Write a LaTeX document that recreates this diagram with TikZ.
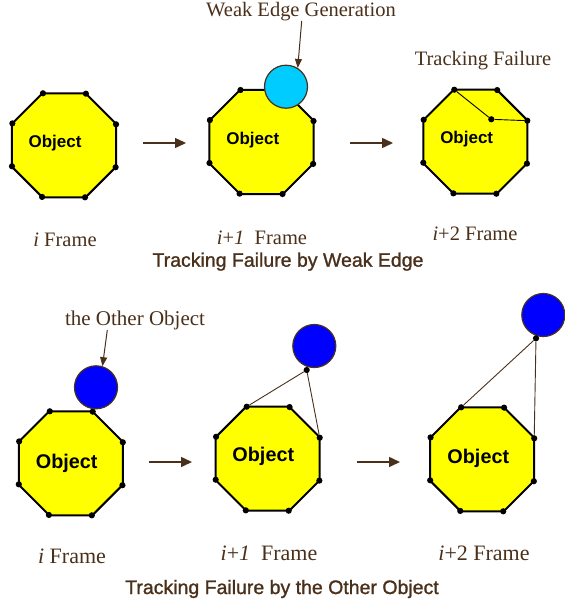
\documentclass[tikz,border=0pt]{standalone}
\usepackage{fontspec}
\setmainfont{Liberation Serif}
\setsansfont{Liberation Sans}
\newfontfamily\capfont[FakeBold=1.2]{Liberation Sans}
\usetikzlibrary{shapes.geometric,arrows.meta,calc}
\definecolor{brn}{RGB}{74,48,26}
\definecolor{objyellow}{RGB}{255,255,0}
\definecolor{weakcyan}{RGB}{0,204,255}
\definecolor{otherblue}{RGB}{0,0,255}
% dots on the eight corners of an octagon node #1, named #1v1 ... #1v8
\newcommand\octcorners[1]{%
  \foreach \a [count=\k] in {22.5,67.5,112.5,157.5,202.5,247.5,292.5,337.5}
    {\node[vdot] (#1v\k) at (#1.\a) {};}}
\begin{document}
\begin{tikzpicture}[x=1pt,y=-1pt,
  oct/.style={regular polygon, regular polygon sides=8, minimum size=112.6pt,
    inner sep=0pt, outer sep=0pt, draw=black, line width=2pt, fill=objyellow},
  objlabel/.style={font=\sffamily\bfseries\fontsize{#1}{#1}\selectfont, text=black, inner sep=0pt},
  objlabel/.default=17,
  vdot/.style={circle, fill=black, inner sep=0pt, minimum size=6.2pt},
  weak/.style={circle, minimum size=43pt, inner sep=0pt, fill=weakcyan, draw=brn, line width=1.2pt},
  other/.style={circle, minimum size=43pt, inner sep=0pt, fill=otherblue, draw=brn, line width=1.2pt},
  flow/.style={draw=brn, line width=1.5pt, -{Triangle[length=11pt,width=10pt]}},
  pointer/.style={draw=brn, line width=1pt, -{Triangle[length=9pt,width=7pt]}},
  tie/.style={draw=brn, line width=0.9pt},
  serif/.style={font=\fontsize{#1}{#1}\selectfont, text=brn, inner sep=0pt, anchor=base},
  serif/.default=20.5,
  caption/.style={font=\capfont\fontsize{19.5}{19.5}\selectfont, text=brn, inner sep=0pt, anchor=base},
]
\useasboundingbox (0,0) rectangle (565,603);

% ---------- Tracking failure by weak edge ----------
\node[oct] (t1) at (64,145.3) {};
\node[objlabel] (t1l) at (55,143) {Object};
\octcorners{t1}

\node[oct] (t2) at (261.5,142) {};
\node[objlabel] (t2l) at (252.8,140) {Object};
\octcorners{t2}
\node[weak] (wc) at (286,86.7) {};

\node[oct] (t3) at (475.3,141.7) {};
\node[objlabel] (t3l) at (466.7,139) {Object};
\octcorners{t3}
\node[vdot] (t3c) at (491.3,119.3) {};
\draw[line width=0.9pt] (t3v3) -- (t3c) -- (t3v1);

\coordinate (ta1s) at (143,143);
\coordinate (ta1e) at (186,143);
\coordinate (ta2s) at (350,143);
\coordinate (ta2e) at (393,143);
\draw[flow] (ta1s) -- (ta1e);
\draw[flow] (ta2s) -- (ta2e);

\node[serif] (weaklbl) at (301,16.5) {Weak Edge Generation};
\coordinate (wtail) at (301.7,21);
\draw[pointer] (wtail) -- (wc.58);
\node[serif] (faillbl) at (483,65) {Tracking Failure};

\node[serif] (tf1) at (65,246) {\textit{i} Frame};
\node[serif] (tf2) at (262,244) {\textit{i}+\textit{1}\ \ Frame};
\node[serif] (tf3) at (475,240.7) {\textit{i}+2 Frame};
\node[caption] (cap1) at (288,266.7) {Tracking Failure by Weak Edge};

% ---------- Tracking failure by the other object ----------
\node[oct] (b1) at (70.8,463.3) {};
\node[objlabel=19.8] (b1l) at (66.7,463.3) {Object};
\octcorners{b1}
\node[other] (oc1) at (96,387.3) {};
\node[serif=21] (otherlbl) at (135,325) {the Other Object};
\coordinate (otail) at (107.3,330);
\draw[pointer] (otail) -- (oc1.73);

\node[oct] (b2) at (267.7,458.7) {};
\node[objlabel=19.8] (b2l) at (263.3,456.7) {Object};
\octcorners{b2}
\node[other] (oc2) at (314.3,346) {};
\node[vdot] (oc2d) at (306.7,370) {};
\draw[tie] (b2v3) -- (oc2d) -- (b2v1);

\node[oct] (b3) at (482.2,459.3) {};
\node[objlabel=19.8] (b3l) at (478.3,458.3) {Object};
\octcorners{b3}
\node[other] (oc3) at (543.3,315) {};
\node[vdot] (oc3d) at (536,338.3) {};
\draw[tie] (b3v3) -- (oc3d) -- (b3v1);

\coordinate (ba1s) at (149,462);
\coordinate (ba1e) at (192,462);
\coordinate (ba2s) at (357,462);
\coordinate (ba2e) at (400,462);
\draw[flow] (ba1s) -- (ba1e);
\draw[flow] (ba2s) -- (ba2e);

\node[serif=22] (bf1) at (72,563.3) {\textit{i} Frame};
\node[serif=22] (bf2) at (269,560.5) {\textit{i}+\textit{1}\ \ Frame};
\node[serif=22] (bf3) at (484,560) {\textit{i}+2 Frame};
\node[caption] (cap2) at (282,594) {Tracking Failure by the Other Object};
\end{tikzpicture}
\end{document}
